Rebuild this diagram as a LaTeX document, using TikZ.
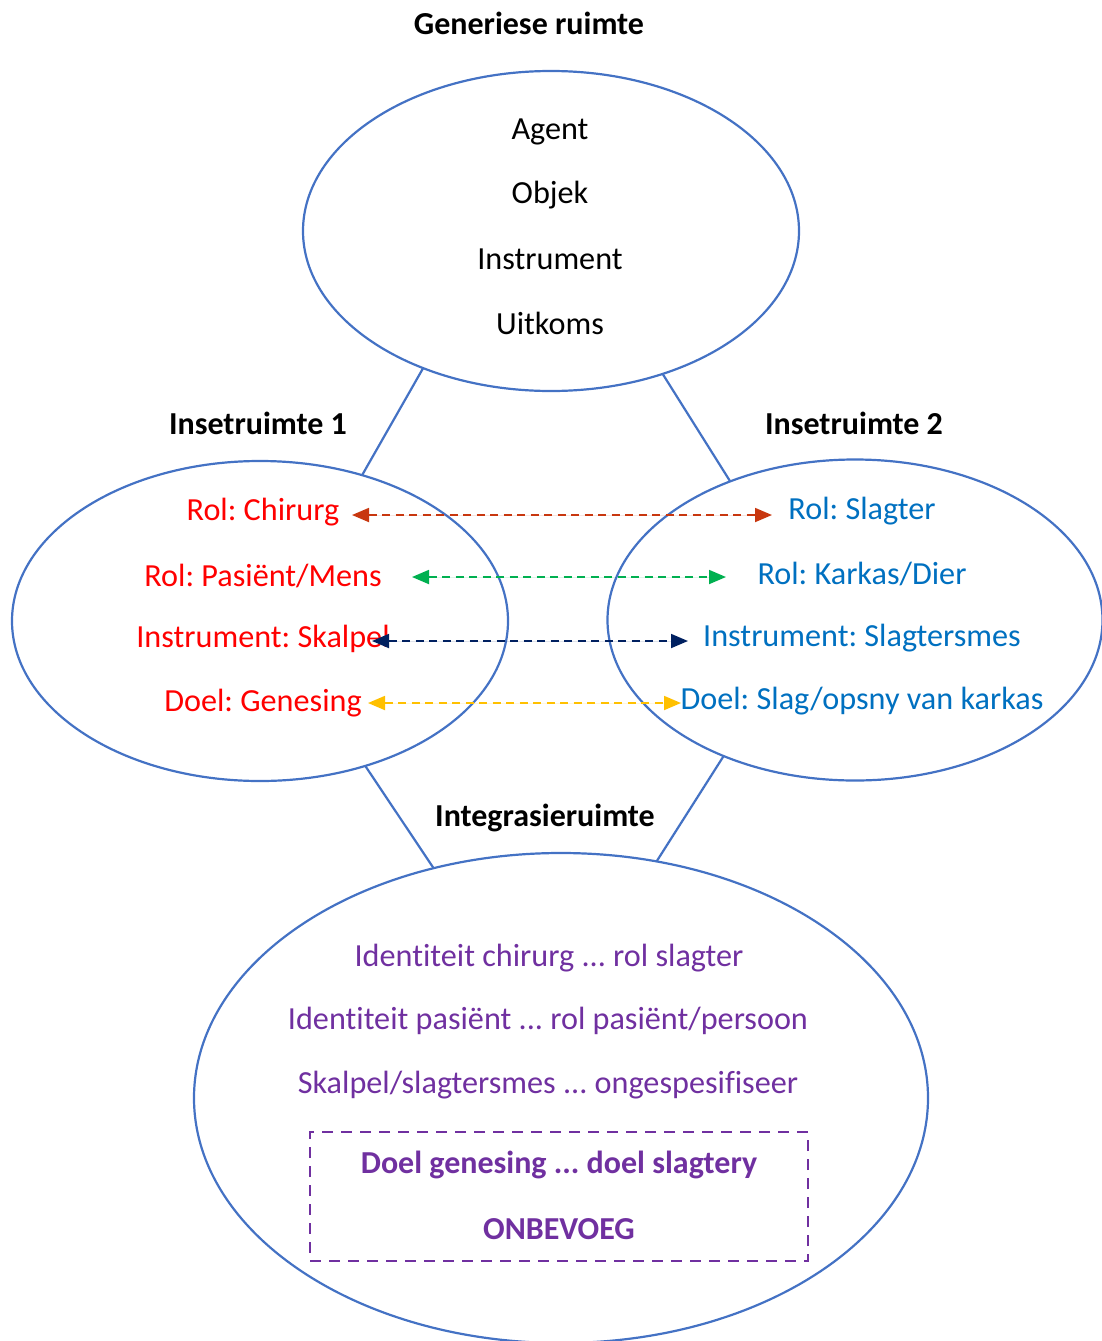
\documentclass[tikz,border=0pt]{standalone}
\usepackage{fontspec}
\setmainfont[Ligatures={NoCommon}]{Carlito}
\usetikzlibrary{shapes.geometric,arrows.meta}
\definecolor{ringblue}{HTML}{4472C4}
\definecolor{srcred}{HTML}{FF0000}
\definecolor{srcblue}{HTML}{0070C0}
\definecolor{blendpurple}{HTML}{7030A0}
\definecolor{mapred}{RGB}{200,55,15}
\definecolor{mapgreen}{HTML}{00B050}
\definecolor{mapnavy}{HTML}{002060}
\definecolor{mapgold}{HTML}{FFC000}
\tikzset{
  space/.style={draw=ringblue, line width=2.2pt, ellipse, inner sep=0pt, outer sep=0pt},
  link/.style={draw=ringblue, line width=2.2pt},
  lbl/.style={font=\fontsize{32.2}{38}\selectfont, inner sep=0pt, anchor=center},
  title/.style={lbl, font=\fontsize{32}{38}\selectfont\bfseries},
  mapping/.style={dashed, dash pattern=on 8pt off 5.5pt, line width=1.8pt,
    {Triangle[length=17pt,width=14pt]}-{Triangle[length=17pt,width=14pt]}},
}
\frenchspacing
\begin{document}
\begin{tikzpicture}[x=1pt,y=-1pt]
\useasboundingbox (0,0) rectangle (1102,1341);

% the four spaces
\node[space, minimum width=496pt, minimum height=320pt] (gen) at (551,231) {};
\node[space, minimum width=496pt, minimum height=320pt] (in1) at (260,621) {};
\node[space, minimum width=495pt, minimum height=321pt] (in2) at (855,620) {};
\node[space, minimum width=734pt, minimum height=490pt] (blend) at (561,1098) {};

% links between the spaces
\draw[link] (gen.-133.5) -- (in1.55.9);
\draw[link] (gen.-52.4) -- (in2.132);
\draw[link] (in1.-54.5) -- (blend.119);
\draw[link] (in2.-134.2) -- (blend.68);

% titles
\node[title] (tgen) at (529,23) {Generiese ruimte};
\node[title] (tin1) at (258,423) {Insetruimte 1};
\node[title] (tin2) at (854,423) {Insetruimte 2};
\node[title] (tblend) at (545,818) {Integrasieruimte};

% generic space
\node[lbl] (g1) at (550,132) {Agent};
\node[lbl] (g2) at (550,195) {Objek};
\node[lbl] (g3) at (550,259) {Instrument};
\node[lbl] (g4) at (550,323) {Uitkoms};

% input space 1
\node[lbl, text=srcred] (a1) at (263,512) {Rol: Chirurg};
\node[lbl, text=srcred] (a2) at (263,576) {Rol: Pasiënt/Mens};
\node[lbl, text=srcred] (a3) at (263,639) {Instrument: Skalpel};
\node[lbl, text=srcred] (a4) at (263,703) {Doel: Genesing};

% input space 2
\node[lbl, text=srcblue] (b1) at (862,511) {Rol: Slagter};
\node[lbl, text=srcblue] (b2) at (862,574) {Rol: Karkas/Dier};
\node[lbl, text=srcblue] (b3) at (862,638) {Instrument: Slagtersmes};
\node[lbl, text=srcblue] (b4) at (862,701) {Doel: Slag/opsny van karkas};

% cross-space mappings
\coordinate (m1l) at (352,515); \coordinate (m1r) at (772,515);
\coordinate (m2l) at (412,577); \coordinate (m2r) at (726,577);
\coordinate (m3l) at (372,641); \coordinate (m3r) at (688,641);
\coordinate (m4l) at (368,703); \coordinate (m4r) at (681,703);
\draw[mapping, draw=mapred, fill=mapred] (m1l) -- (m1r);
\draw[mapping, draw=mapgreen, fill=mapgreen] (m2l) -- (m2r);
\draw[mapping, draw=mapnavy, fill=mapnavy] (m3l) -- (m3r);
\draw[mapping, draw=mapgold, fill=mapgold] (m4l) -- (m4r);

% blended space
\node[lbl, text=blendpurple] (c1) at (549,958) {Identiteit chirurg ... rol slagter};
\node[lbl, text=blendpurple] (c2) at (548,1021) {Identiteit pasiënt ... rol pasiënt/persoon};
\node[lbl, text=blendpurple] (c3) at (548,1085) {Skalpel/slagtersmes ... ongespesifiseer};
\node[draw=blendpurple, line width=2.6pt, dashed, dash pattern=on 11pt off 8pt,
      minimum width=498pt, minimum height=129pt, inner sep=0pt] (clash) at (559,1196.5) {};
\node[title, text=blendpurple] (c4) at (559,1165) {Doel genesing ... doel slagtery};
\node[title, text=blendpurple] (c5) at (559,1229) {ONBEVOEG};
\end{tikzpicture}
\end{document}
